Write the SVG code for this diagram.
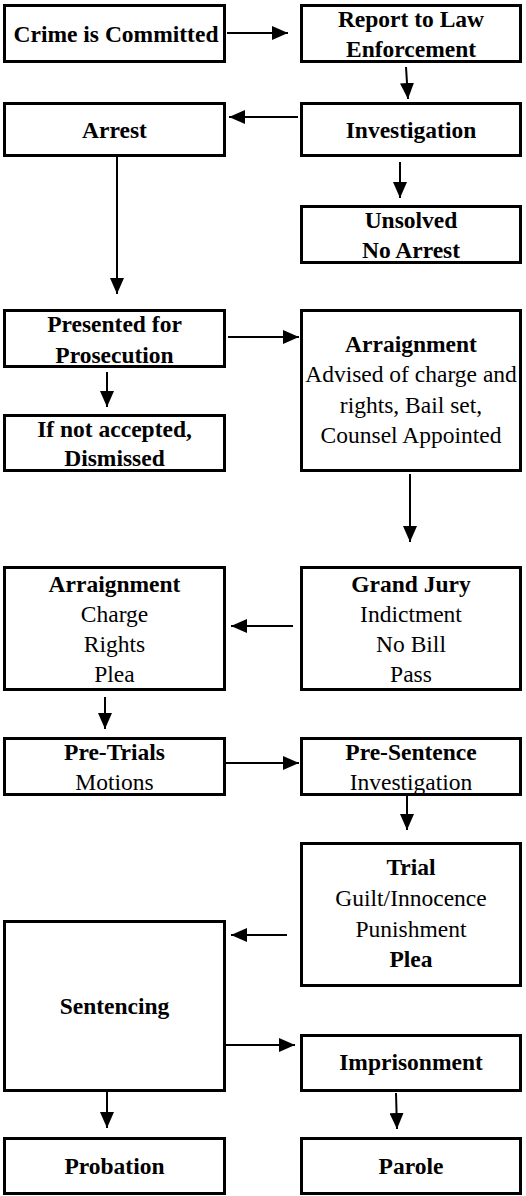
<svg xmlns="http://www.w3.org/2000/svg" width="526" height="1196" viewBox="0 0 526 1196">
<style>
.box{fill:#fff;stroke:#000;stroke-width:3}
text{font-family:"Liberation Serif","Times New Roman",serif;font-size:23.5px;text-anchor:middle;fill:#000}
.b{font-weight:bold}
.c{stroke:#000;stroke-width:2;fill:none;marker-end:url(#ah)}
</style>
<defs>
<marker id="ah" markerUnits="userSpaceOnUse" markerWidth="16" markerHeight="14" refX="16" refY="7" orient="auto">
<path d="M0,0 L16,7 L0,14 z" fill="#000"/>
</marker>
</defs>
<rect width="526" height="1196" fill="#fff"/>
<g id="connectors">
<line class="c" x1="227" y1="33" x2="288" y2="33"/>
<line class="c" x1="406" y1="67" x2="408" y2="99"/>
<line class="c" x1="298" y1="117" x2="229" y2="117"/>
<line class="c" x1="400" y1="162" x2="400" y2="198"/>
<line class="c" x1="117" y1="157" x2="117" y2="294"/>
<line class="c" x1="228" y1="337" x2="299" y2="337"/>
<line class="c" x1="107" y1="372" x2="107" y2="407"/>
<line class="c" x1="410" y1="474" x2="410" y2="542"/>
<line class="c" x1="293" y1="626" x2="231" y2="626"/>
<line class="c" x1="105" y1="697" x2="105" y2="729"/>
<line class="c" x1="226" y1="763" x2="299" y2="763"/>
<line class="c" x1="407" y1="793" x2="407" y2="830"/>
<line class="c" x1="287" y1="935" x2="231" y2="935"/>
<line class="c" x1="226" y1="1045" x2="295" y2="1045"/>
<line class="c" x1="107" y1="1092" x2="107" y2="1128"/>
<line class="c" x1="396" y1="1093" x2="397" y2="1129"/>
</g>
<g id="crime"><rect class="box" x="4.5" y="5.5" width="220" height="56"/><text class="b" x="116" y="41.5">Crime is Committed</text></g>
<g id="report"><rect class="box" x="301.5" y="5.5" width="219" height="56"/><text class="b" x="411" y="26.5">Report to Law</text><text class="b" x="411" y="56.5">Enforcement</text></g>
<g id="arrest"><rect class="box" x="4.5" y="103.5" width="220" height="52"/><text class="b" x="114.5" y="138">Arrest</text></g>
<g id="investigation"><rect class="box" x="301.5" y="103.5" width="219" height="52"/><text class="b" x="411" y="138">Investigation</text></g>
<g id="unsolved"><rect class="box" x="301.5" y="206.5" width="219" height="56"/><text class="b" x="411" y="227.5">Unsolved</text><text class="b" x="411" y="258">No Arrest</text></g>
<g id="presented"><rect class="box" x="4.5" y="310.5" width="220" height="56"/><text class="b" x="114.5" y="332">Presented for</text><text class="b" x="114.5" y="362.5">Prosecution</text></g>
<g id="arraignment1"><rect class="box" x="301.5" y="310.5" width="219" height="160"/><text class="b" x="411" y="351.5">Arraignment</text><text x="411" y="381.5">Advised of charge and</text><text x="411" y="412.5">rights, Bail set,</text><text x="411" y="443">Counsel Appointed</text></g>
<g id="dismissed"><rect class="box" x="4.5" y="415.5" width="220" height="55"/><text class="b" x="114.5" y="436.5">If not accepted,</text><text class="b" x="114.5" y="466">Dismissed</text></g>
<g id="arraignment2"><rect class="box" x="4.5" y="567.5" width="220" height="122"/><text class="b" x="114.5" y="591.5">Arraignment</text><text x="114.5" y="621.5">Charge</text><text x="114.5" y="651.5">Rights</text><text x="114.5" y="681.5">Plea</text></g>
<g id="grandjury"><rect class="box" x="301.5" y="567.5" width="219" height="122"/><text class="b" x="411" y="591.5">Grand Jury</text><text x="411" y="621.5">Indictment</text><text x="411" y="651.5">No Bill</text><text x="411" y="681.5">Pass</text></g>
<g id="pretrials"><rect class="box" x="4.5" y="738.5" width="220" height="56"/><text class="b" x="114.5" y="760">Pre-Trials</text><text x="114.5" y="790">Motions</text></g>
<g id="presentence"><rect class="box" x="301.5" y="738.5" width="219" height="56"/><text class="b" x="411" y="760">Pre-Sentence</text><text x="411" y="790">Investigation</text></g>
<g id="trial"><rect class="box" x="301.5" y="843.5" width="219" height="142"/><text class="b" x="411" y="875">Trial</text><text x="411" y="906">Guilt/Innocence</text><text x="411" y="936.5">Punishment</text><text class="b" x="411" y="967">Plea</text></g>
<g id="sentencing"><rect class="box" x="4.5" y="921.5" width="220" height="169"/><text class="b" x="114.5" y="1014">Sentencing</text></g>
<g id="imprisonment"><rect class="box" x="301.5" y="1035.5" width="219" height="55"/><text class="b" x="411" y="1070">Imprisonment</text></g>
<g id="probation"><rect class="box" x="4.5" y="1138.5" width="220" height="55"/><text class="b" x="114.5" y="1174">Probation</text></g>
<g id="parole"><rect class="box" x="301.5" y="1138.5" width="219" height="55"/><text class="b" x="411" y="1174">Parole</text></g>
</svg>
